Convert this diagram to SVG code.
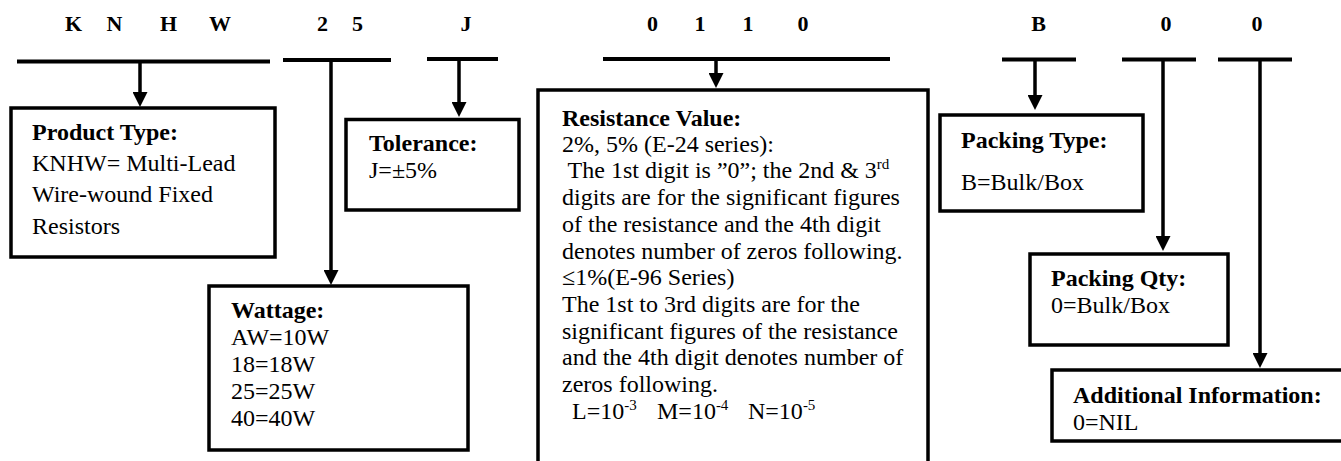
<svg xmlns="http://www.w3.org/2000/svg" width="1341" height="461" viewBox="0 0 1341 461">
<style>
text{font-family:"Liberation Serif","Times New Roman",serif;fill:#000}
.hd{font-size:22px;font-weight:bold;text-anchor:middle}
.t{font-size:24px}
.b{font-size:24px;font-weight:bold}
.sup{font-size:15px}
.box{fill:#fff;stroke:#000;stroke-width:3.5}
.bar{stroke:#000;stroke-width:4;fill:none}
.arr{stroke:#000;stroke-width:3.5;fill:none;marker-end:url(#ah)}
.ln{stroke:#000;stroke-width:3.5;fill:none}
</style>
<defs>
<marker id="ah" viewBox="0 0 15 15" refX="7" refY="7.5" markerWidth="15" markerHeight="15" markerUnits="userSpaceOnUse" orient="auto">
<path d="M0,0 L15,7.5 L0,15 Z" fill="#000"/>
</marker>
</defs>
<rect width="1341" height="461" fill="#fff"/>
<g id="code">
<text class="hd" x="73.5" y="31">K</text>
<text class="hd" x="114.5" y="31">N</text>
<text class="hd" x="168.5" y="31">H</text>
<text class="hd" x="220" y="31">W</text>
<text class="hd" x="322.5" y="31">2</text>
<text class="hd" x="357.5" y="31">5</text>
<text class="hd" x="466" y="31">J</text>
<text class="hd" x="652.5" y="31">0</text>
<text class="hd" x="700" y="31">1</text>
<text class="hd" x="748" y="31">1</text>
<text class="hd" x="803" y="31">0</text>
<text class="hd" x="1038.5" y="31">B</text>
<text class="hd" x="1166" y="31">0</text>
<text class="hd" x="1257" y="31">0</text>
</g>
<g id="connectors">
<line class="bar" x1="17" y1="61.5" x2="270" y2="61.5"/>
<line class="bar" x1="283" y1="60" x2="391" y2="60"/>
<line class="bar" x1="427" y1="59" x2="498" y2="59"/>
<line class="bar" x1="603" y1="59" x2="890" y2="59"/>
<line class="bar" x1="1002" y1="59.5" x2="1076" y2="59.5"/>
<line class="bar" x1="1122" y1="59.5" x2="1196" y2="59.5"/>
<line class="bar" x1="1218" y1="59.5" x2="1292" y2="59.5"/>
<line class="arr" x1="140" y1="61.5" x2="140" y2="99"/>
<line class="arr" x1="331" y1="60" x2="331" y2="277"/>
<line class="arr" x1="459" y1="59" x2="459" y2="109"/>
<line class="arr" x1="716" y1="59" x2="716" y2="80"/>
<line class="arr" x1="1035" y1="59.5" x2="1035" y2="102"/>
<line class="arr" x1="1163" y1="59.5" x2="1163" y2="243"/>
<line class="arr" x1="1260" y1="59.5" x2="1260" y2="360"/>
</g>
<g id="product-type">
<rect class="box" x="11" y="108" width="264" height="149"/>
<text class="b" x="32" y="140">Product Type:</text>
<text class="t" x="32" y="171">KNHW= Multi-Lead</text>
<text class="t" x="32" y="202">Wire-wound Fixed</text>
<text class="t" x="32" y="234">Resistors</text>
</g>
<g id="wattage">
<rect class="box" x="209" y="286" width="259" height="164"/>
<text class="b" x="231" y="318">Wattage:</text>
<text class="t" x="231" y="345">AW=10W</text>
<text class="t" x="231" y="372">18=18W</text>
<text class="t" x="231" y="399">25=25W</text>
<text class="t" x="231" y="426">40=40W</text>
</g>
<g id="tolerance">
<rect class="box" x="346" y="119.5" width="173" height="90.5"/>
<text class="b" x="369" y="151">Tolerance:</text>
<text class="t" x="369" y="178">J=±5%</text>
</g>
<g id="resistance-value">
<rect class="box" x="538" y="90" width="390" height="400"/>
<text class="b" x="562" y="126">Resistance Value:</text>
<text class="t" x="562" y="152">2%, 5% (E-24 series):</text>
<text class="t" x="562" y="178" xml:space="preserve"> The 1st digit is ”0”; the 2nd &amp; 3<tspan class="sup" dy="-9">rd</tspan></text>
<text class="t" x="562" y="205">digits are for the significant figures</text>
<text class="t" x="562" y="232">of the resistance and the 4th digit</text>
<text class="t" x="562" y="259">denotes number of zeros following.</text>
<text class="t" x="562" y="285">≤1%(E-96 Series)</text>
<text class="t" x="562" y="312">The 1st to 3rd digits are for the</text>
<text class="t" x="562" y="339">significant figures of the resistance</text>
<text class="t" x="562" y="365">and the 4th digit denotes number of</text>
<text class="t" x="562" y="392">zeros following.</text>
<text class="t" x="572" y="419">L=10<tspan class="sup" dy="-9">-3</tspan></text>
<text class="t" x="657" y="419">M=10<tspan class="sup" dy="-9">-4</tspan></text>
<text class="t" x="748" y="419">N=10<tspan class="sup" dy="-9">-5</tspan></text>
</g>
<g id="packing-type">
<rect class="box" x="940" y="115" width="203" height="96"/>
<text class="b" x="961" y="148">Packing Type:</text>
<text class="t" x="961" y="190">B=Bulk/Box</text>
</g>
<g id="packing-qty">
<rect class="box" x="1030" y="254" width="198" height="91"/>
<text class="b" x="1051" y="286">Packing Qty:</text>
<text class="t" x="1051" y="313">0=Bulk/Box</text>
</g>
<g id="additional-information">
<rect class="box" x="1052" y="370" width="320" height="71"/>
<text class="b" x="1073" y="403">Additional Information:</text>
<text class="t" x="1073" y="430">0=NIL</text>
</g>
</svg>
